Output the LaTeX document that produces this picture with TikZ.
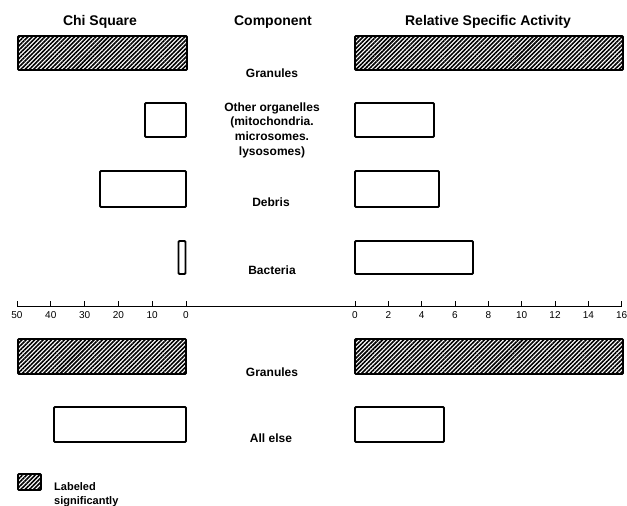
\documentclass[tikz,border=0pt]{standalone}
\usepackage{fontspec}
\setmainfont{Liberation Sans}
\usetikzlibrary{patterns.meta}
\begin{document}
\begin{tikzpicture}[x=1pt,y=-1pt,
  bar/.style={draw=black, line width=1.9pt, rounded corners=1pt},
  hbar/.style={bar, pattern={Lines[angle=45,distance=3pt,line width=1.6pt]}},
  head/.style={font=\bfseries\fontsize{14}{16}\selectfont, inner sep=0pt},
  lab/.style={font=\bfseries\fontsize{12}{14}\selectfont, inner sep=0pt},
  sublab/.style={font=\fontsize{12}{14.7}\selectfont\bfseries, align=center, inner sep=0pt},
  ticklab/.style={font=\fontsize{10}{11}\selectfont, inner sep=0pt},
  tickmark/.style={line width=0.8pt}]
\useasboundingbox (0,0) rectangle (627,506);

% headings
\node[head] (hchi) at (100,22) {Chi Square};
\node[head] (hcomp) at (273,22) {Component};
\node[head] (hrsa) at (488,22) {Relative Specific Activity};

% bars (upper block)
\draw[hbar] (18,36) rectangle (187,70);
\draw[hbar] (355,36) rectangle (623,70);
\node[lab] (gran1) at (272,73) {Granules};

\draw[bar] (145,103) rectangle (186,137);
\draw[bar] (355,103) rectangle (434,137);
\node[sublab] (other) at (272,130) {Other organelles\\(mitochondria.\\microsomes.\\lysosomes)};

\draw[bar] (100,171) rectangle (186,207);
\draw[bar] (355,171) rectangle (439,207);
\node[lab] (debris) at (271,202) {Debris};

\draw[bar] (178.5,241) rectangle (185.5,274);
\draw[bar] (355,241) rectangle (473,274);
\node[lab] (bact) at (272,270) {Bacteria};

% axis
\coordinate (axL) at (17,306);
\coordinate (axR) at (622,306);
\draw[line width=0.8pt] (axL) -- (axR);
\foreach \v/\lab in {0/50,1/40,2/30,3/20,4/10,5/0} {
  \coordinate (lt\v) at ({17+\v*33.8},306);
  \draw[tickmark] (lt\v) -- ++(0,-5);
  \node[ticklab] (ll\v) at ({17+\v*33.8},315) {\lab};
}
\foreach \v in {0,2,...,16} {
  \coordinate (rt\v) at ({355+\v*16.67},306);
  \draw[tickmark] (rt\v) -- ++(0,-5);
  \node[ticklab] (rl\v) at ({355+\v*16.67},315) {\v};
}

% bars (lower block)
\draw[hbar] (18,339) rectangle (186,374);
\draw[hbar] (355,339) rectangle (623,374);
\node[lab] (gran2) at (272,372) {Granules};

\draw[bar] (54,407) rectangle (186,442);
\draw[bar] (355,407) rectangle (444,442);
\node[lab] (alle) at (271,438) {All else};

% legend
\draw[hbar] (18,474) rectangle (41,490);
\node[lab, anchor=west, align=left, font=\bfseries\fontsize{11}{14}\selectfont] (leg) at (54,495) {Labeled\\significantly};
\end{tikzpicture}
\end{document}
